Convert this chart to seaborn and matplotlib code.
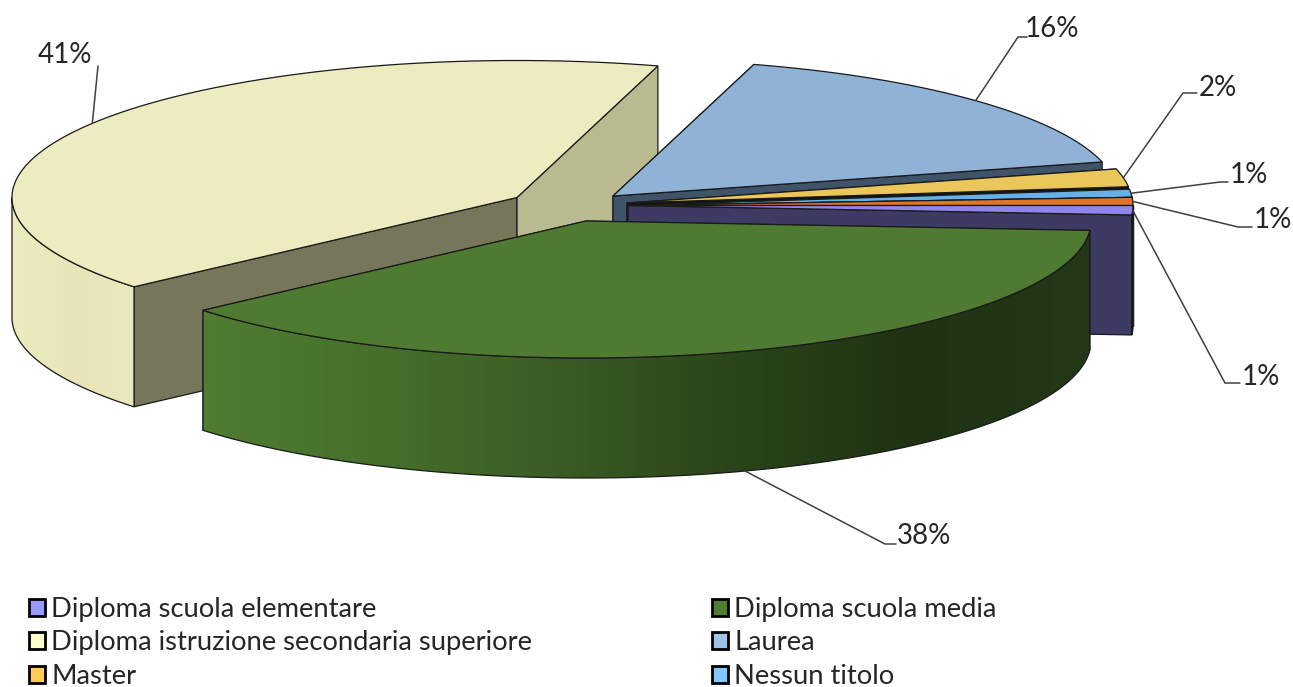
import numpy as np
import pandas as pd
import matplotlib
matplotlib.use("Agg")
import matplotlib.pyplot as plt
from matplotlib.patches import Polygon, Patch
import seaborn as sns

# dati (percentuali, senso orario partendo da ore 3)
categorie = ["Diploma scuola elementare", "Diploma scuola media",
             "Diploma istruzione secondaria superiore", "Laurea",
             "Master", "Nessun titolo", "Altro"]
valori = [1.1, 37.6, 40.8, 16.5, 2.1, 0.95, 0.95]
etichette = ["1%", "38%", "41%", "16%", "2%", "1%", "1%"]

# colori
col_top = ["#8F85EC", "#4F7A32", "#ECECC0", "#8FB2D6", "#EBC75B", "#65B0E8", "#DF7528"]
col_legenda = ["#9999FF", "#4D7F2F", "#FFFFCC", "#9DC3E6", "#FFCC55", "#80C8FF"]
col_inizio = ["#3D3B63", "#2A4019", "#76765A", "#3F5468", "#111111", "#111111", "#111111"]
col_fine = ["#3D3B63", "#2A4019", "#BABA90", "#3F5468", "#111111", "#111111", "#111111"]
col_muro = [["#3D3B63", "#3D3B63"],
            ["#4F7D32", "#466F2C", "#3A5C24", "#2A4519", "#1E3312", "#223818"],
            ["#ECECBE", "#E6E6B8", "#E9E9BC"],
            ["#3F5468", "#3F5468"], ["#5C4A1F", "#5C4A1F"],
            ["#2C5A7A", "#2C5A7A"], ["#7A3E14", "#7A3E14"]]

# geometria della torta in pixel
A, B, SPESSORE = 505, 137, 120
CENTRO = (628, 205.5)
ESPLOSO = [(0, 0), (-42, 15.5), (-111, -8), (-15, -9.5), (-1, -2.5), (0, 0), (0, 0)]
ORDINE = [2, 3, 4, 5, 6, 0, 1]

# gomiti delle linee guida e posizione del testo
gomiti = [[(1225, 383), (1240, 383)], [(885, 544), (896, 544)], [(98, 66)],
          [(1018, 37), (1027, 37)], [(1183, 93), (1197, 93)],
          [(1220, 182), (1228, 182)], [(1238, 227), (1252, 227)]]
pos_testo = [(1261, 377), (924, 536), (65, 55), (1052, 29), (1218, 88), (1249, 175), (1273, 220)]

sns.set_theme(style="white")
plt.rcParams['font.family'] = ['Lato', 'DejaVu Sans']

df = pd.DataFrame({"categoria": categorie, "valore": valori})
df["fine"] = -df["valore"].cumsum() * 3.6
df["inizio"] = df["fine"] + df["valore"] * 3.6

fig = plt.figure(figsize=(12.93, 6.87), dpi=100)
ax = fig.add_axes([0, 0, 1, 1])


def arco(cx, cy, a0, a1, n=500):
    t = np.radians(np.linspace(a0, a1, n))
    return t, np.column_stack([cx + A * np.cos(t), cy - B * np.sin(t)])


def faccia(cx, cy, angolo, colore, z):
    t = np.radians(angolo)
    p = (cx + A * np.cos(t), cy - B * np.sin(t))
    pts = [(cx, cy), p, (p[0], p[1] + SPESSORE), (cx, cy + SPESSORE)]
    ax.add_patch(Polygon(pts, fc=colore, ec="#1a1a1a", lw=0.9, zorder=z))


for z0, i in enumerate(ORDINE):
    r = df.iloc[i]
    cx, cy = CENTRO[0] + ESPLOSO[i][0], CENTRO[1] + ESPLOSO[i][1]
    z = z0 * 10 + 1
    faccia(cx, cy, r["inizio"], col_inizio[i], z)
    faccia(cx, cy, r["fine"], col_fine[i], z + 1)

    # muro esterno: solo la parte davanti (seno negativo)
    t, pts = arco(cx, cy, r["inizio"], r["fine"])
    pts = pts[np.sin(t) <= 0]
    if len(pts) > 1:
        poly = np.vstack([pts, (pts + [0, SPESSORE])[::-1]])
        muro = Polygon(poly, fc="none", ec="#1a1a1a", lw=0.9, zorder=z + 3)
        ax.add_patch(muro)
        pal = sns.blend_palette(col_muro[i], n_colors=256)
        x0, x1 = poly[:, 0].min(), poly[:, 0].max()
        y0, y1 = poly[:, 1].min(), poly[:, 1].max()
        grad = np.array(pal)[np.newaxis, :, :]
        im = ax.imshow(grad, extent=[x0, x1, y1, y0], aspect="auto", zorder=z + 2)
        im.set_clip_path(Polygon(poly, transform=ax.transData))

    # faccia superiore
    _, pts = arco(cx, cy, r["inizio"], r["fine"])
    ax.add_patch(Polygon(np.vstack([[cx, cy], pts]), fc=col_top[i], ec="#1a1a1a",
                         lw=0.9, zorder=z + 4))

# linee guida ed etichette
for i, r in df.iterrows():
    cx, cy = CENTRO[0] + ESPLOSO[i][0], CENTRO[1] + ESPLOSO[i][1]
    t = np.radians((r["inizio"] + r["fine"]) / 2)
    x, y = cx + A * np.cos(t), cy - B * np.sin(t)
    if np.sin(t) < -0.5:
        y += SPESSORE
    tratto = np.array([(x, y)] + gomiti[i])
    ax.plot(tratto[:, 0], tratto[:, 1], color="#404040", lw=1.1, zorder=200)
    ax.text(pos_testo[i][0], pos_testo[i][1], etichette[i], ha="center", va="center",
            fontsize=20, color="#262626", zorder=200)

# legenda (ultima voce tagliata nell'originale)
righe = [0, 2, 4, 1, 3, 5]
maniglie = [Patch(fc=col_legenda[i], ec="black", lw=2) for i in righe]
ax.legend(maniglie, [categorie[i] for i in righe], ncols=2, loc="upper left",
          bbox_to_anchor=(29, 597), bbox_transform=ax.transData, frameon=False,
          prop={"size": 19.7}, labelcolor="#262626", handlelength=0.58, handleheight=0.58,
          handletextpad=0.24, labelspacing=0.31, columnspacing=6.55, borderpad=0,
          borderaxespad=0)

ax.set_xlim(0, 1293)
ax.set_ylim(687, 0)
ax.axis("off")
fig.savefig("out.png", dpi=100, facecolor="white")
